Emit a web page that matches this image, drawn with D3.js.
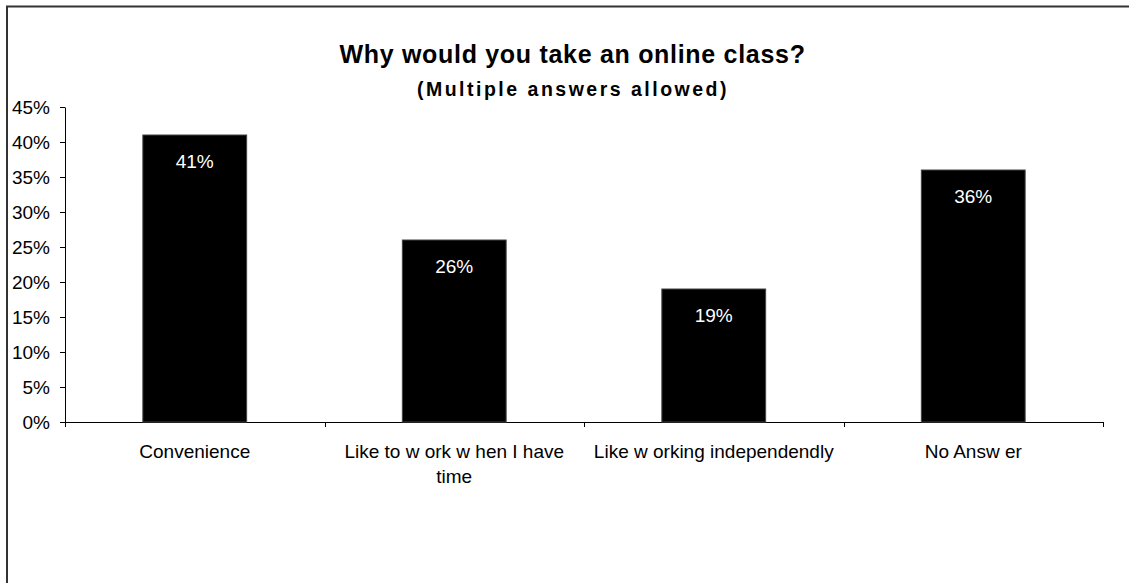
<!DOCTYPE html>
<html>
<head>
<meta charset="utf-8">
<script src="https://cdn.jsdelivr.net/npm/d3@7"></script>
<style>
  body { margin: 0; background: #fff; }
  text { font-family: "Liberation Sans", Arial, sans-serif; }
</style>
</head>
<body>
<div id="chart"></div>
<script>
var categories = ['Convenience', 'Like to w ork w hen I have time', 'Like w orking independendly', 'No Answ er'];
var category_lines = [['Convenience'], ['Like to w ork w hen I have', 'time'], ['Like w orking independendly'], ['No Answ er']];
var percent_values = [41, 26, 19, 36];
var y_ticks = [0, 5, 10, 15, 20, 25, 30, 35, 40, 45];

var svg_w = 1129,
    svg_h = 583;

var plot = {left: 65, right: 1103, top: 107, bottom: 422};

var svg = d3.select('#chart').append('svg')
    .attr('width', svg_w)
    .attr('height', svg_h);

// outer chart border (only top and left are visible)
svg.append('rect')
  .attr('x', 7)
  .attr('y', 6.5)
  .attr('width', svg_w + 20)
  .attr('height', svg_h + 20)
  .attr('fill', 'none')
  .attr('stroke', '#333')
  .attr('stroke-width', 2);

svg.append('text')
  .attr('x', 572.5)
  .attr('y', 62.5)
  .attr('text-anchor', 'middle')
  .attr('font-size', 25)
  .attr('font-weight', 'bold')
  .attr('letter-spacing', 0.7)
  .text('Why would you take an online class?');

svg.append('text')
  .attr('x', 573)
  .attr('y', 96)
  .attr('text-anchor', 'middle')
  .attr('font-size', 19.5)
  .attr('font-weight', 'bold')
  .attr('letter-spacing', 2.5)
  .text('(Multiple answers allowed)');

var x = d3.scaleBand()
    .domain(categories)
    .range([plot.left, plot.right])
    .paddingInner(0.6)
    .paddingOuter(0.3);

var y = d3.scaleLinear()
    .domain([0, 45])
    .range([plot.bottom, plot.top]);

// y axis
var y_axis = svg.append('g')
    .attr('transform', 'translate(' + plot.left + ',0)')
    .call(d3.axisLeft(y).tickValues(y_ticks).tickSize(5).tickSizeOuter(0).tickPadding(10)
      .tickFormat(function(d) { return d + '%'; }));

y_axis.select('.domain').attr('stroke', '#000');
y_axis.selectAll('.tick line').attr('stroke', '#000');
y_axis.selectAll('.tick text')
  .attr('font-size', 19)
  .attr('font-family', '"Liberation Sans", Arial, sans-serif')
  .attr('fill', '#000');

// x axis line with ticks between categories
var x_axis = svg.append('g');

x_axis.append('line')
  .attr('x1', plot.left)
  .attr('x2', plot.right)
  .attr('y1', plot.bottom + 0.5)
  .attr('y2', plot.bottom + 0.5)
  .attr('stroke', '#000');

var boundaries = d3.range(categories.length + 1).map(function(i) {
  return plot.left + i * x.step();
});

x_axis.selectAll('.xtick')
  .data(boundaries)
  .enter().append('line')
  .attr('x1', function(d) { return Math.round(d) + 0.5; })
  .attr('x2', function(d) { return Math.round(d) + 0.5; })
  .attr('y1', plot.bottom)
  .attr('y2', plot.bottom + 5)
  .attr('stroke', '#000');

var labels = x_axis.selectAll('.xlabel')
  .data(categories)
  .enter().append('text')
  .attr('text-anchor', 'middle')
  .attr('font-size', 19)
  .attr('fill', '#000');

labels.selectAll('tspan')
  .data(function(d, i) { return category_lines[i].map(function(l) { return {line: l, cat: d}; }); })
  .enter().append('tspan')
  .attr('x', function(d) { return x(d.cat) + x.bandwidth() / 2; })
  .attr('y', function(d, i) { return 458 + i * 25; })
  .text(function(d) { return d.line; });

// bars
svg.selectAll('.bar')
  .data(percent_values)
  .enter().append('rect')
  .attr('x', function(d, i) { return x(categories[i]); })
  .attr('y', function(d) { return y(d); })
  .attr('width', x.bandwidth())
  .attr('height', function(d) { return plot.bottom - y(d); })
  .attr('fill', '#000')
  .attr('stroke', '#444')
  .attr('stroke-width', 1);

svg.selectAll('.bar-label')
  .data(percent_values)
  .enter().append('text')
  .attr('x', function(d, i) { return x(categories[i]) + x.bandwidth() / 2; })
  .attr('y', function(d) { return y(d) + 33; })
  .attr('text-anchor', 'middle')
  .attr('font-size', 19)
  .attr('fill', '#fff')
  .text(function(d) { return d + '%'; });
</script>
</body>
</html>
